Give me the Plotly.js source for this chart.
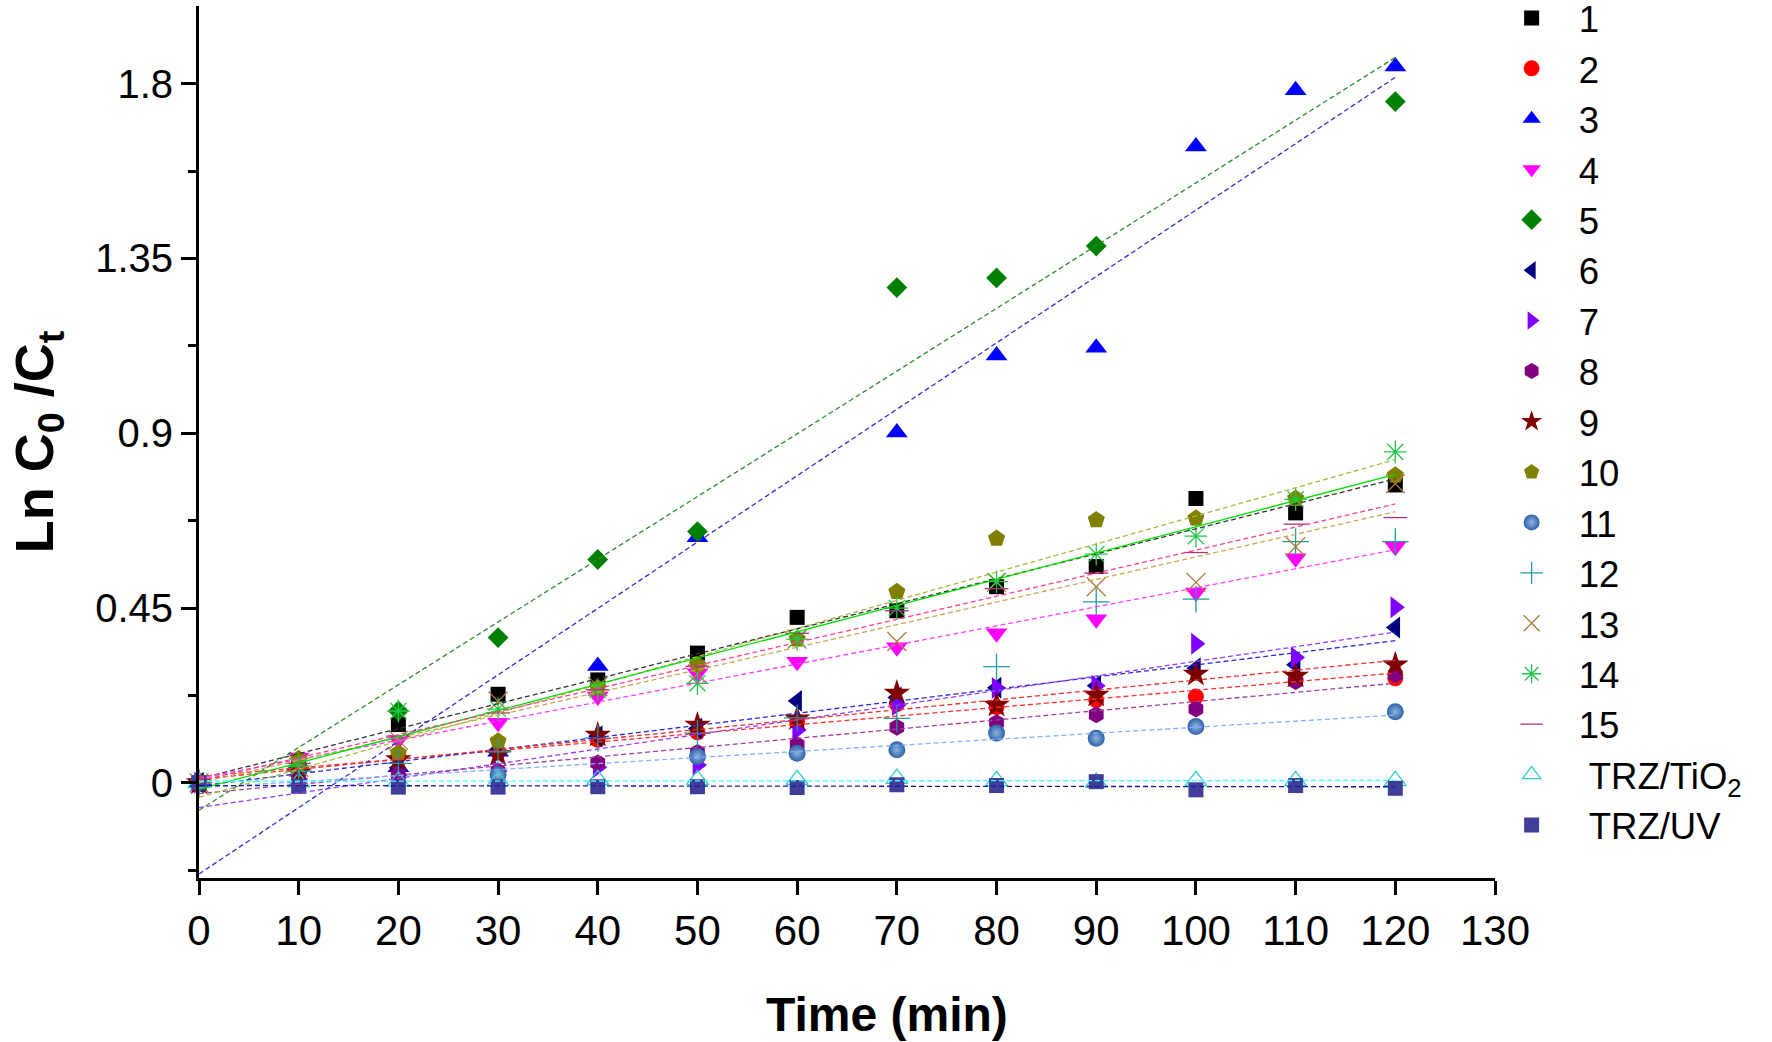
<!DOCTYPE html>
<html>
<head>
<meta charset="utf-8">
<script src="https://cdn.plot.ly/plotly-3.0.1.min.js"></script>
<style>html,body{margin:0;padding:0;background:#fff}</style>
</head>
<body>
<div id="myDiv" style="width:1772px;height:1042px"></div>
<script>
// sampling times (min)
const times = [0, 10, 20, 30, 40, 50, 60, 70, 80, 90, 100, 110, 120];

// Ln C0/Ct, null where no point is shown
const s1  = [0, 0.055, 0.150, 0.228, 0.265, 0.334, 0.426, 0.443, 0.505, 0.557, 0.732, 0.695, 0.767];
const s2  = [0, 0.030, 0.069, 0.080, 0.111, 0.130, 0.158, 0.203, 0.195, 0.213, 0.222, 0.265, 0.269];
const s3  = [0, 0.050, 0.040, 0.080, 0.301, 0.632, null, 0.902, 1.100, 1.120, 1.638, 1.783, 1.844];
const s4  = [0, 0.065, 0.110, 0.155, 0.222, 0.282, 0.312, 0.349, 0.385, 0.421, 0.490, 0.578, 0.608];
const s5  = [0, 0.040, 0.185, 0.374, 0.575, 0.647, null, 1.275, 1.300, 1.382, null, null, 1.754];
const s6  = [0, 0.020, 0.039, 0.085, 0.120, 0.140, 0.211, 0.220, 0.245, 0.250, 0.295, 0.304, 0.400];
const s7  = [0, 0.010, 0.020, 0.030, 0.040, 0.046, 0.136, 0.200, 0.244, 0.250, 0.358, 0.323, 0.452];
const s8  = [0, 0.010, 0.020, 0.030, 0.051, 0.078, 0.098, 0.143, 0.155, 0.175, 0.190, 0.261, 0.278];
const s9  = [0, 0.026, 0.060, 0.073, 0.123, 0.149, 0.165, 0.231, 0.200, 0.226, 0.280, 0.275, 0.304];
const s10 = [0, 0.062, 0.077, 0.107, 0.244, 0.304, 0.370, 0.492, 0.629, 0.677, 0.681, 0.732, 0.792];
const s11 = [0, null, null, 0.021, null, 0.068, 0.076, 0.085, 0.128, 0.115, 0.145, null, 0.183];
const s12 = [0, 0.030, 0.050, 0.080, 0.115, 0.128, 0.167, 0.166, 0.299, 0.466, 0.473, 0.621, 0.621];
const s13 = [0, 0.040, 0.110, 0.210, 0.248, 0.280, 0.370, 0.364, 0.516, 0.505, 0.516, 0.608, 0.770];
const s14 = [0, 0.043, 0.185, 0.190, 0.240, 0.256, 0.370, 0.450, 0.518, 0.589, 0.635, 0.730, 0.852];
const s15 = [0, 0.050, 0.120, 0.180, 0.240, 0.300, 0.385, 0.443, 0.500, 0.540, 0.593, 0.666, 0.683];
const sTiO2 = [0, 0.002, 0.004, 0.005, 0.008, 0.008, 0.008, 0.011, 0.005, 0.001, 0.005, 0.005, 0.005];
const sUV   = [0, -0.009, -0.011, -0.011, -0.010, -0.010, -0.012, -0.005, -0.007, 0.003, -0.018, -0.007, -0.014];

const series = [s1, s2, s3, s4, s5, s6, s7, s8, s9, s10, s11, s12, s13, s14, s15, sTiO2, sUV];
const names = ['1', '2', '3', '4', '5', '6', '7', '8', '9', '10', '11', '12', '13', '14', '15',
               '\u00a0TRZ/TiO<sub>2</sub>', '\u00a0TRZ/UV'];

const symbols = ['square', 'circle', 'triangle-up', 'triangle-down', 'diamond', 'triangle-left',
                 'triangle-right', 'hexagon', 'star', 'pentagon', 'circle', 'cross-thin-open',
                 'x-thin-open', 'asterisk-open', 'line-ew-open', 'triangle-up-open', 'square'];
const colors = ['#000000', '#ff0000', '#0000ff', '#ff00ff', '#008000', '#000080', '#8000ff',
                '#800080', '#800000', '#808000', '#2c62a8', '#1e9c9c', '#b07a3a', '#22c74a',
                '#a8327a', '#33cccc', '#3f3f99'];
const sizes = [15, 16, 19, 19, 16, 19, 19, 17, 20, 18, 17, 19, 19, 19, 17, 19, 15];

// linear-fit line colours (series 12 has no fitted line in the figure)
const fitColors = ['#333333', '#ff3030', '#3030cc', '#ff40ff', '#2e8b2e', '#2a2add', '#9a3cff',
                   '#a040a0', '#e83030', '#a8b840', '#80b0ff', null, '#c8a850', '#00e000',
                   '#ff4090', '#40ffff', '#1a1a9a'];

function linfit(xs, ys) {
  let n = 0, sx = 0, sy = 0, sxx = 0, sxy = 0;
  xs.forEach((x, i) => {
    const y = ys[i];
    if (y === null) return;
    n++; sx += x; sy += y; sxx += x * x; sxy += x * y;
  });
  const b = (n * sxy - sx * sy) / (n * sxx - sx * sx);
  const a = (sy - b * sx) / n;
  return [a, b];
}

const font = 'Liberation Sans, Arial, Helvetica, sans-serif';
const data = [];

series.forEach((ys, i) => {
  const open = symbols[i].indexOf('open') >= 0;
  const marker = {
    symbol: symbols[i],
    size: sizes[i],
    color: colors[i],
    line: {width: open ? 1.3 : 0, color: colors[i]}
  };
  if (i === 10) marker.gradient = {type: 'radial', color: '#8fb3e0'};
  data.push({
    x: times, y: ys, type: 'scatter', mode: 'markers', name: names[i],
    marker: marker, cliponaxis: false
  });
});

series.forEach((ys, i) => {
  if (!fitColors[i]) return;
  const [a, b] = linfit(times, ys);
  const t0 = times[0], t1 = times[times.length - 1];
  data.push({
    x: [t0, t1], y: [a + b * t0, a + b * t1], type: 'scatter', mode: 'lines',
    showlegend: false, hoverinfo: 'skip',
    line: {color: fitColors[i], width: 1.3, dash: i === 13 ? 'solid' : '5px,3px'}
  });
});

const layout = {
  width: 1772, height: 1042,
  margin: {l: 199, r: 277, t: 6, b: 164, autoexpand: false},
  paper_bgcolor: '#fff', plot_bgcolor: '#fff',
  font: {family: font, color: '#000'},
  showlegend: true,
  legend: {
    x: 0.992, xanchor: 'left', y: 1.021, yanchor: 'top', maxheight: 1042,
    font: {size: 36.5, family: font, color: '#000'},
    itemwidth: 84, bgcolor: 'rgba(0,0,0,0)', borderwidth: 0, tracegroupgap: 0
  },
  xaxis: {
    range: [0, 130], dtick: 10, tick0: 0,
    showline: true, linewidth: 3, linecolor: '#000', mirror: false,
    ticks: 'outside', ticklen: 14, tickwidth: 3, tickcolor: '#000',
    showgrid: false, zeroline: false,
    tickfont: {size: 42, family: font}
  },
  yaxis: {
    range: [-0.245, 2.0], dtick: 0.45, tick0: 0,
    showline: true, linewidth: 3, linecolor: '#000',
    ticks: 'outside', ticklen: 15, tickwidth: 3, tickcolor: '#000',
    minor: {dtick: 0.225, tick0: 0, ticks: 'outside', ticklen: 8, tickwidth: 3, tickcolor: '#000', showgrid: false},
    showgrid: false, zeroline: false,
    tickfont: {size: 40, family: font},
    title: {text: 'Ln C<sub>0</sub> /C<sub>t</sub>', font: {size: 54, family: font, weight: 'bold'}, standoff: 25}
  },
  annotations: [{
    text: 'Time (min)', xref: 'paper', yref: 'paper', x: 0.531, y: -0.156,
    xanchor: 'center', yanchor: 'middle', showarrow: false,
    font: {size: 48, family: font, weight: 'bold', color: '#000'}
  }]
};

Plotly.newPlot('myDiv', data, layout, {staticPlot: true});
</script>
</body>
</html>
